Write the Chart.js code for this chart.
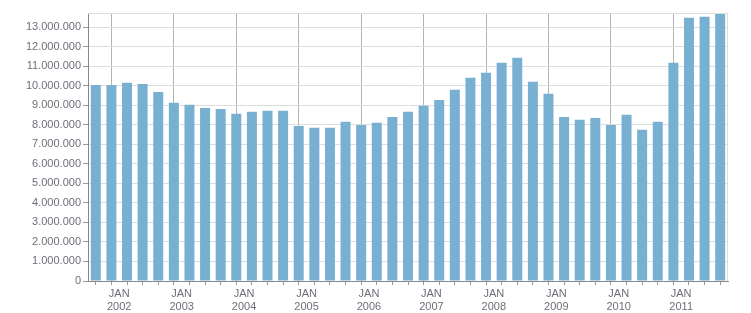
<!DOCTYPE html>
<html>
<head>
<meta charset="utf-8">
<script src="https://cdn.jsdelivr.net/npm/chart.js@4"></script>
<style>
  html, body { margin: 0; padding: 0; background: #fff; }
  #wrap { width: 751px; height: 313px; }
</style>
</head>
<body>
<div id="wrap"><canvas id="chart"></canvas></div>
<script>
// quarters shown, first one is Q3 2001
const quarters = [
  "2001 Q3", "2001 Q4",
  "2002 Q1", "2002 Q2", "2002 Q3", "2002 Q4",
  "2003 Q1", "2003 Q2", "2003 Q3", "2003 Q4",
  "2004 Q1", "2004 Q2", "2004 Q3", "2004 Q4",
  "2005 Q1", "2005 Q2", "2005 Q3", "2005 Q4",
  "2006 Q1", "2006 Q2", "2006 Q3", "2006 Q4",
  "2007 Q1", "2007 Q2", "2007 Q3", "2007 Q4",
  "2008 Q1", "2008 Q2", "2008 Q3", "2008 Q4",
  "2009 Q1", "2009 Q2", "2009 Q3", "2009 Q4",
  "2010 Q1", "2010 Q2", "2010 Q3", "2010 Q4",
  "2011 Q1", "2011 Q2", "2011 Q3"
];

const values = [
  10040000, 10040000,
  10150000, 10090000, 9680000, 9120000,
  9020000, 8860000, 8810000, 8560000,
  8660000, 8710000, 8710000, 7940000,
  7840000, 7840000, 8150000, 7990000,
  8100000, 8400000, 8660000, 8970000,
  9270000, 9790000, 10400000, 10660000,
  11170000, 11430000, 10200000, 9580000,
  8400000, 8250000, 8350000, 7990000,
  8510000, 7740000, 8150000, 11170000,
  13480000, 13530000, 13680000
];

const yTicks = [
  0, 1000000, 2000000, 3000000, 4000000, 5000000, 6000000,
  7000000, 8000000, 9000000, 10000000, 11000000, 12000000, 13000000
];
const yMax = 13720000;

// months counted from Jul 2001; a bar sits in the middle of its quarter
const monthOf = q => {
  const [yr, qq] = q.split(" Q");
  return (Number(yr) - 2001) * 12 + (Number(qq) - 3) * 3 + 1.5;
};
const xMax = monthOf(quarters[quarters.length - 1]) + 1.5;

const fmt = v => String(v).replace(/\B(?=(\d{3})+(?!\d))/g, ".");

const tickFont = { family: "'Liberation Sans', Arial, sans-serif", size: 11 };
const textColor = "#6e6e7a";

const frame = {
  id: "frame",
  afterDraw(chart) {
    const { ctx, chartArea: a } = chart;
    ctx.save();
    ctx.strokeStyle = "#dddddd";
    ctx.lineWidth = 1;
    ctx.beginPath();
    ctx.moveTo(a.left, Math.round(a.top) + 0.5);
    ctx.lineTo(a.right, Math.round(a.top) + 0.5);
    ctx.moveTo(Math.round(a.right) - 0.5, a.top);
    ctx.lineTo(Math.round(a.right) - 0.5, a.bottom);
    ctx.stroke();
    ctx.restore();
  }
};

new Chart(document.getElementById("chart"), {
  type: "bar",
  data: {
    datasets: [{
      data: quarters.map((q, i) => ({ x: monthOf(q), y: values[i] })),
      backgroundColor: "#78b0d2",
      barPercentage: 0.64,
      categoryPercentage: 1
    }]
  },
  options: {
    responsive: true,
    maintainAspectRatio: false,
    animation: false,
    layout: { padding: { top: 13, right: 23, left: 0, bottom: 0 } },
    plugins: { legend: { display: false }, tooltip: { enabled: false } },
    scales: {
      x: {
        type: "linear",
        min: 0,
        max: xMax,
        offset: false,
        afterFit: s => { s.height = 32; },
        border: { color: "#888888" },
        grid: {
          color: c => (c.tick && c.tick.value % 12 === 6) ? "#b4b4b4" : "rgba(0,0,0,0)",
          tickColor: "#999999",
          tickLength: 4
        },
        ticks: {
          stepSize: 3,
          autoSkip: false,
          maxRotation: 0,
          padding: 2,
          color: textColor,
          font: tickFont,
          callback: v => v % 12 === 6 ? ["JAN", String(2001 + (v + 6) / 12)] : ""
        }
      },
      y: {
        min: 0,
        max: yMax,
        afterFit: s => { s.width = 88; },
        afterBuildTicks: s => { s.ticks = yTicks.map(v => ({ value: v })); },
        border: { color: "#888888" },
        grid: { color: "#dddddd", tickColor: "#999999", tickLength: 5 },
        ticks: {
          autoSkip: false,
          padding: 2,
          color: textColor,
          font: tickFont,
          callback: v => fmt(v)
        }
      }
    }
  },
  plugins: [frame]
});
</script>
</body>
</html>
